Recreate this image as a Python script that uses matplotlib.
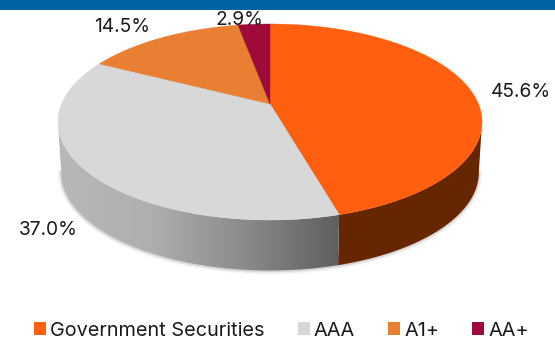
import matplotlib
matplotlib.use("Agg")
import matplotlib.pyplot as plt
import numpy as np
from matplotlib.colors import LinearSegmentedColormap
from matplotlib.patches import PathPatch, Patch, Polygon
from matplotlib.path import Path

labels = ["Government Securities", "AAA", "A1+", "AA+"]
values = [45.6, 37.0, 14.5, 2.9]
colors = ["#FF5F0F", "#D8D8D8", "#E97F33", "#9E0B3A"]
value_text = ["45.6%", "37.0%", "14.5%", "2.9%"]

plt.rcParams["font.family"] = ["Inter", "DejaVu Sans"]

# pie geometry in pixels, with a little perspective tilt
cx, cy = 270.0, 104.0
sx, sy, tilt = 208.4, 94.7, 0.1837
depth = 50.5
# angles where the rim is widest: the wall is only visible between them
front_a = np.arccos(-tilt)
front_b = 2 * np.pi - front_a


def rim(theta, shrink=1.0):
    u, v = np.sin(theta), np.cos(theta)
    w = 1 + tilt * v
    return cx + shrink * sx * u / w, cy - sy * v / w


def strip(a0, a1):
    t = np.linspace(max(a0, front_a), min(a1, front_b), 200)
    x0, y0 = rim(t)
    x1, y1 = rim(t[::-1], 0.985)
    return np.r_[x0, x1], np.r_[y0, y1 + depth]


fig = plt.figure(figsize=(5.55, 3.39), dpi=100)
ax = fig.add_axes([0, 0, 1, 1])
ax.set_xlim(0, 555)
ax.set_ylim(339, 0)
ax.axis("off")

ax.fill_between([0, 555], 0, 9.5, color="#0063A3", lw=0)

edges = np.r_[0, np.cumsum(values)] / np.sum(values) * 2 * np.pi

# soft shadow under the body
t = np.linspace(front_a, front_b, 300)
bx, by = rim(t, 0.985)
for lw, a in [(5, 0.05), (3, 0.08), (1.5, 0.14)]:
    ax.plot(bx, by + depth + 0.5, color="#555555", lw=lw, alpha=a, zorder=1)

# side walls: flat brown for the first slice, a grey ramp for the second
x, y = strip(edges[0], edges[1])
ax.add_patch(Polygon(np.c_[x, y], color="#662602", lw=0, zorder=2))

grey = LinearSegmentedColormap.from_list(
    "side", ["#B8B8B8", "#AFAFAF", "#8A8A8A", "#5F5F5F"])
x, y = strip(edges[1], edges[2])
img = ax.imshow(np.linspace(0, 1, 256)[None, :], cmap=grey, aspect="auto",
                extent=[58, 339, 339, 0], zorder=2)
img.set_clip_path(PathPatch(Path(np.c_[x, y]), transform=ax.transData))
ax.set_xlim(0, 555)
ax.set_ylim(339, 0)

# top faces
for i in range(4):
    t = np.linspace(edges[i], edges[i + 1], 200)
    x, y = rim(t)
    ax.add_patch(Polygon(np.c_[np.r_[cx, x], np.r_[cy, y]], color=colors[i],
                         lw=0.3, zorder=3))

label_pos = [(520.5, 92), (48, 230), (122, 27), (239, 20)]
for s, (lx, ly) in zip(value_text, label_pos):
    ax.text(lx, ly, s, ha="center", va="center", fontsize=13.8,
            color="#1A1A1A", zorder=4)

handles = [Patch(color=c, lw=0) for c in colors]
ax.legend(handles, labels, ncol=4, frameon=False, loc="center",
          bbox_to_anchor=(281.5 / 555, 1 - 330.5 / 339), bbox_transform=ax.transAxes,
          fontsize=14.3, labelcolor="#1A1A1A", handlelength=0.62, handleheight=0.62,
          handletextpad=0.2, columnspacing=1.65, borderaxespad=0, borderpad=0)

fig.savefig("out.png", dpi=100)
